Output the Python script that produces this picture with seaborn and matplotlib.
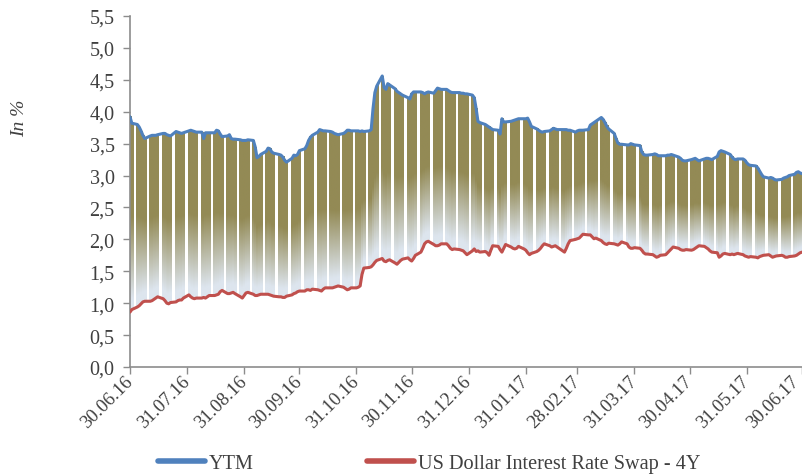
import numpy as np
import pandas as pd
import matplotlib
matplotlib.use('Agg')
import matplotlib.pyplot as plt
import matplotlib.transforms as mtransforms
from matplotlib.lines import Line2D
from matplotlib.colors import LinearSegmentedColormap
import seaborn as sns

# ------------------------------------
# --- Dados (valores diarios, uma linha por semana)
# ------------------------------------
ytm = [
    3.92, 3.82,
    3.80, 3.76, 3.70, 3.63, 3.58,
    3.62, 3.63, 3.63, 3.63, 3.64,
    3.66, 3.66, 3.64, 3.63, 3.62,
    3.69, 3.68, 3.67, 3.66, 3.67,
    3.70, 3.71, 3.70, 3.69, 3.68,
    3.68, 3.58, 3.67, 3.67, 3.67,
    3.67, 3.71, 3.70, 3.65, 3.61,
    3.62, 3.64, 3.58, 3.57, 3.57,
    3.56, 3.55, 3.55, 3.55, 3.56,
    3.55, 3.45, 3.28, 3.30, 3.33,
    3.38, 3.43, 3.42, 3.37, 3.35,
    3.33, 3.32, 3.29, 3.24, 3.21,
    3.27, 3.32, 3.31, 3.33, 3.39,
    3.42, 3.47, 3.55, 3.60, 3.63,
    3.68, 3.72, 3.71, 3.70, 3.70,
    3.69, 3.68, 3.66, 3.65, 3.64,
    3.66, 3.68, 3.71, 3.71, 3.70,
    3.70, 3.70, 3.69, 3.70, 3.69,
    3.70, 3.72, 4.05, 4.30, 4.40,
    4.56, 4.38, 4.35, 4.44, 4.42,
    4.36, 4.32, 4.30, 4.28, 4.26,
    4.22, 4.20, 4.28, 4.31, 4.31,
    4.31, 4.30, 4.28, 4.30, 4.31,
    4.29, 4.33, 4.37, 4.36, 4.35,
    4.35, 4.33, 4.31, 4.30, 4.30,
    4.30, 4.29, 4.29, 4.28, 4.28,
    4.26, 4.22, 4.05, 3.85, 3.83,
    3.80, 3.78, 3.76, 3.74, 3.72,
    3.71, 3.65, 3.89, 3.84, 3.84,
    3.85, 3.86, 3.87, 3.88, 3.89,
    3.89, 3.89, 3.90, 3.84, 3.77,
    3.73, 3.71, 3.69, 3.68, 3.69,
    3.70, 3.72, 3.74, 3.73, 3.72,
    3.72, 3.72, 3.72, 3.71, 3.71,
    3.68, 3.70, 3.71, 3.71, 3.71,
    3.72, 3.79, 3.81, 3.83, 3.85,
    3.91, 3.88, 3.83, 3.77, 3.73,
    3.66, 3.58, 3.51, 3.49, 3.49,
    3.48, 3.48, 3.50, 3.49, 3.48,
    3.47, 3.37, 3.33, 3.32, 3.32,
    3.33, 3.34, 3.33, 3.31, 3.31,
    3.31, 3.32, 3.32, 3.33, 3.32,
    3.29, 3.27, 3.24, 3.23, 3.23,
    3.25, 3.26, 3.27, 3.25, 3.23,
    3.26, 3.27, 3.27, 3.26, 3.25,
    3.30, 3.37, 3.39, 3.38, 3.37,
    3.33, 3.29, 3.26, 3.25, 3.26,
    3.26, 3.24, 3.20, 3.17, 3.16,
    3.15, 3.12, 3.07, 3.02, 2.98,
    2.96, 2.97, 2.96, 2.94, 2.93,
    2.94, 2.96, 2.97, 2.98, 3.00,
    3.02, 3.05, 3.06, 3.04, 3.03,
]

swap = [
    0.86, 0.90,
    0.94, 0.96, 0.99, 1.02, 1.03,
    1.03, 1.04, 1.06, 1.08, 1.10,
    1.07, 1.04, 1.00, 0.99, 1.01,
    1.02, 1.04, 1.05, 1.05, 1.08,
    1.13, 1.10, 1.08, 1.07, 1.08,
    1.08, 1.09, 1.08, 1.10, 1.12,
    1.12, 1.13, 1.14, 1.18, 1.20,
    1.15, 1.15, 1.16, 1.17, 1.15,
    1.10, 1.08, 1.12, 1.16, 1.17,
    1.14, 1.12, 1.12, 1.13, 1.14,
    1.14, 1.14, 1.13, 1.12, 1.11,
    1.10, 1.10, 1.09, 1.09, 1.11,
    1.13, 1.15, 1.16, 1.18, 1.19,
    1.19, 1.21, 1.21, 1.20, 1.22,
    1.21, 1.20, 1.19, 1.22, 1.24,
    1.24, 1.24, 1.25, 1.26, 1.27,
    1.25, 1.23, 1.21, 1.22, 1.24,
    1.24, 1.25, 1.27, 1.45, 1.55,
    1.56, 1.57, 1.60, 1.64, 1.67,
    1.70, 1.66, 1.65, 1.67, 1.68,
    1.63, 1.61, 1.64, 1.67, 1.69,
    1.71, 1.68, 1.66, 1.70, 1.75,
    1.80, 1.86, 1.93, 1.96, 1.97,
    1.92, 1.90, 1.90, 1.91, 1.93,
    1.93, 1.90, 1.86, 1.84, 1.85,
    1.84, 1.83, 1.82, 1.79, 1.76,
    1.82, 1.85, 1.81, 1.82, 1.80,
    1.81, 1.79, 1.75, 1.83, 1.90,
    1.89, 1.84, 1.80, 1.86, 1.92,
    1.88, 1.86, 1.85, 1.86, 1.89,
    1.85, 1.83, 1.79, 1.76, 1.78,
    1.81, 1.83, 1.86, 1.90, 1.93,
    1.90, 1.88, 1.89, 1.90, 1.88,
    1.82, 1.80, 1.86, 1.93, 1.98,
    2.00, 2.01, 2.02, 2.05, 2.08,
    2.07, 2.07, 2.04, 2.01, 2.02,
    1.98, 1.95, 1.93, 1.92, 1.94,
    1.93, 1.92, 1.91, 1.93, 1.96,
    1.93, 1.88, 1.86, 1.86, 1.87,
    1.86, 1.83, 1.79, 1.77, 1.77,
    1.76, 1.74, 1.72, 1.73, 1.75,
    1.76, 1.79, 1.82, 1.85, 1.88,
    1.86, 1.84, 1.83, 1.83, 1.84,
    1.83, 1.84, 1.86, 1.88, 1.90,
    1.89, 1.87, 1.85, 1.82, 1.80,
    1.79, 1.72, 1.74, 1.77, 1.78,
    1.76, 1.77, 1.76, 1.77, 1.78,
    1.76, 1.74, 1.73, 1.72, 1.73,
    1.72, 1.71, 1.73, 1.74, 1.75,
    1.76, 1.74, 1.72, 1.73, 1.74,
    1.75, 1.74, 1.72, 1.72, 1.73,
    1.74, 1.75, 1.77, 1.79, 1.80,
]

series_names = ['YTM', 'US Dollar Interest Rate Swap - 4Y']
tick_labels = ['30.06.16', '31.07.16', '31.08.16', '30.09.16', '31.10.16', '30.11.16',
               '31.12.16', '31.01.17', '28.02.17', '31.03.17', '30.04.17', '31.05.17',
               '30.06.17']
y_ticks = [0.0, 0.5, 1.0, 1.5, 2.0, 2.5, 3.0, 3.5, 4.0, 4.5, 5.0, 5.5]

# ------------------------------------
# --- Estilo
# ------------------------------------
blue = '#4F81BD'
red = '#C0504D'
olive = '#938A55'
pale = '#DDE5EE'
text_color = '#404040'
spine_color = '#8C8C8C'

sns.set_style('white')
plt.rcParams['font.family'] = ['Liberation Serif', 'DejaVu Serif']

dates = pd.bdate_range('2016-06-30', '2017-06-30')
df = pd.DataFrame({'Data': dates, series_names[0]: ytm, series_names[1]: swap})
long_df = df.melt('Data', var_name='Serie', value_name='Valor')

fig = plt.figure(figsize=(8.03, 4.77), dpi=100)
ax = fig.add_axes([130 / 803, 109 / 477, 672 / 803, 351 / 477])

# Barras entre as duas series, com preenchimento em gradiente
bars = ax.bar(dates, df[series_names[0]] - df[series_names[1]], bottom=df[series_names[1]],
              width=1.3, color='none', linewidth=0)
cmap = LinearSegmentedColormap.from_list('grad', [(0.0, pale), (0.06, pale), (0.5, olive), (1.0, olive)])
grad = cmap(np.linspace(1, 0, 256)).reshape(256, 1, 4)
for b in bars:
    x0, y0, w, h = b.get_x(), b.get_y(), b.get_width(), b.get_height()
    ax.imshow(grad, extent=(x0, x0 + w, y0, y0 + h), aspect='auto',
              interpolation='bilinear', zorder=1)

# Linhas
sns.lineplot(data=long_df, x='Data', y='Valor', hue='Serie', palette=[blue, red],
             linewidth=2.2, legend=False, ax=ax, zorder=3)

# Eixos
tick_dates = pd.to_datetime(tick_labels, format='%d.%m.%y')
ax.set_xlim(tick_dates[0], tick_dates[-1])
ax.set_ylim(0, 5.5)
ax.set_xticks(tick_dates)
ax.set_xticklabels(tick_labels, rotation=45, ha='right', va='center', rotation_mode='anchor',
                   fontsize=13.5)
ax.set_yticks(y_ticks)
ax.set_yticklabels([f'{v:.1f}'.replace('.', ',') for v in y_ticks], fontsize=14.5)
ax.tick_params(axis='both', colors=spine_color, labelcolor=text_color,
               length=5, width=1, direction='out', left=True, bottom=True)
ax.tick_params(axis='y', pad=6)
ax.tick_params(axis='x', pad=3)
# ultimo rotulo um pouco para a esquerda, para nao ser cortado na borda
last = ax.get_xticklabels()[-1]
last.set_transform(last.get_transform() + mtransforms.ScaledTranslation(-6 / 100, 0, fig.dpi_scale_trans))
for s in ['top', 'right']:
    ax.spines[s].set_visible(False)
for s in ['left', 'bottom']:
    ax.spines[s].set_color(spine_color)
    ax.spines[s].set_linewidth(1.2)
ax.set_xlabel('')
ax.set_ylabel('In %', fontsize=14, style='italic', color=text_color)
ax.yaxis.set_label_coords(-0.151, 0.712)

# Legenda
handles = [Line2D([], [], color=blue, linewidth=4), Line2D([], [], color=red, linewidth=4)]
fig.legend(handles, series_names, loc='center left', bbox_to_anchor=(158 / 803, 1 - 464 / 477),
           ncol=2, frameon=False, fontsize=14.6, handlelength=2.3, handletextpad=0.2,
           columnspacing=5.6, borderpad=0, borderaxespad=0, labelcolor=text_color)

fig.savefig('out.png', dpi=100)
